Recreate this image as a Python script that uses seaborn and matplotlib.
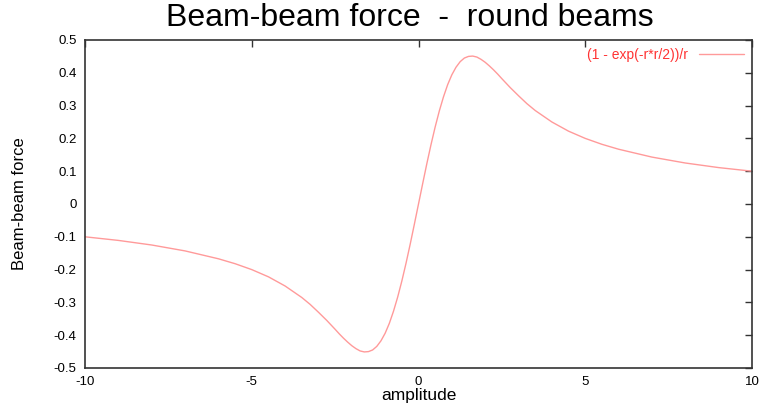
import numpy as np
import pandas as pd
import matplotlib
matplotlib.use("Agg")
import matplotlib.pyplot as plt
import seaborn as sns

# values (positive half; the curve is odd)
amp_pos = [0.0, 0.125, 0.25, 0.375, 0.5, 0.625, 0.75, 0.875, 1.0, 1.125,
           1.25, 1.375, 1.5, 1.625, 1.75, 1.875, 2.0, 2.125, 2.25, 2.375,
           2.5, 2.75, 3.0, 3.25, 3.5, 4.0, 4.5, 5.0, 5.5, 6.0, 7.0, 8.0,
           9.0, 10.0]
force_pos = [0.0, 0.062, 0.123, 0.181, 0.235, 0.284, 0.327, 0.364, 0.394,
             0.417, 0.434, 0.445, 0.450, 0.451, 0.448, 0.441, 0.432, 0.421,
             0.409, 0.396, 0.382, 0.355, 0.330, 0.306, 0.285, 0.250, 0.222,
             0.200, 0.182, 0.167, 0.143, 0.125, 0.111, 0.100]

amplitude = [-a for a in amp_pos[:0:-1]] + amp_pos
force = [-f for f in force_pos[:0:-1]] + force_pos
df = pd.DataFrame({"amplitude": amplitude, "force": force})

x_ticks = [-10, -5, 0, 5, 10]
x_labels = ["-10", "-5", "0", "5", "10"]
y_ticks = [-0.5, -0.4, -0.3, -0.2, -0.1, 0, 0.1, 0.2, 0.3, 0.4, 0.5]
y_labels = ["-0.5", "-0.4", "-0.3", "-0.2", "-0.1", "0",
            "0.1", "0.2", "0.3", "0.4", "0.5"]

sns.set_style("white")
plt.rcParams["font.family"] = ["Liberation Sans", "DejaVu Sans"]

fig = plt.figure(figsize=(7.68, 4.04), dpi=100)
ax = fig.add_axes([85 / 768, 1 - 368 / 404, (752 - 85) / 768, (368 - 40) / 404])

sns.lineplot(data=df, x="amplitude", y="force", ax=ax, color="#ff9a9a",
             linewidth=1.0, label="(1 - exp(-r*r/2))/r")

ax.set_xlim(-10, 10)
ax.set_ylim(-0.5, 0.5)
ax.set_xticks(x_ticks)
ax.set_xticklabels(x_labels)
ax.set_yticks(y_ticks)
ax.set_yticklabels(y_labels)
ax.tick_params(direction="in", length=5, width=1, colors="#333333",
               labelsize=9.5, top=True, right=True, pad=6, labelcolor="black")
for s in ax.spines.values():
    s.set_color("#333333")
    s.set_linewidth(1.2)

ax.set_xlabel("amplitude", fontsize=12.5, labelpad=0, color="black")
ax.set_ylabel("Beam-beam force", fontsize=12, labelpad=19, color="black")
fig.text(0.533, 0.955, "Beam-beam force  -  round beams", ha="center",
         va="center", fontsize=23, color="black")

leg = ax.legend(loc="upper right", frameon=False, fontsize=10,
                markerfirst=False, handlelength=3.2, borderaxespad=0.2)
for t in leg.get_texts():
    t.set_color("#ff3333")

fig.savefig("out.png", dpi=100)
